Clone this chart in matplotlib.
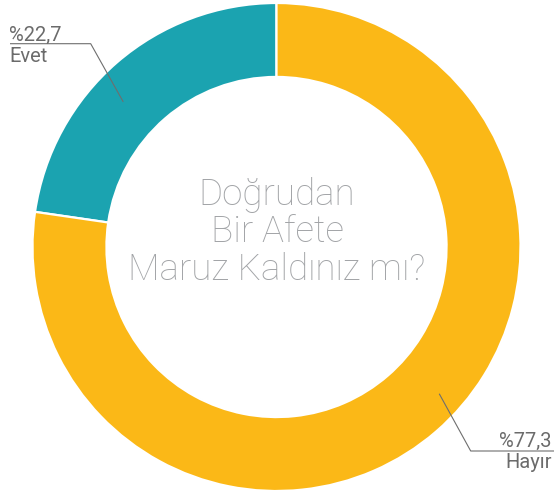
import matplotlib
matplotlib.use("Agg")
import matplotlib.pyplot as plt
import numpy as np

labels = ["Evet", "Hayır"]
values = [22.7, 77.3]
pct_labels = ["%22,7", "%77,3"]
colors = ["#1BA3B0", "#FBB817"]
center_lines = ["Doğrudan", "Bir Afete", "Maruz Kaldınız mı?"]

W, H = 554, 498
CX, CY, R = 276.5, 247.0, 244.0  # pixels

def px(x, y):
    return ((x - CX) / R, (CY - y) / R)

fig = plt.figure(figsize=(W / 100, H / 100), dpi=100)
ax = fig.add_axes([0, 0, 1, 1])
ax.pie(values, radius=1.0, startangle=90, counterclock=True, colors=colors,
       wedgeprops=dict(width=0.303, edgecolor="white", linewidth=1.6))
ax.set_xlim(-CX / R, (W - CX) / R)
ax.set_ylim(-(H - CY) / R, CY / R)
ax.set_aspect("equal")
ax.axis("off")

font_c = dict(family=["Roboto", "DejaVu Sans"], weight="light")
font_l = dict(family=["Roboto", "DejaVu Sans"], weight="normal")

# center text
for line, yb in zip(center_lines, [205, 242, 280]):
    x, y = px(277, yb)
    ax.text(x, y, line, ha="center", va="baseline", fontsize=26.5,
            color="#A2A4A7", **font_c)

# leader lines and labels
cum = np.cumsum([0] + values)
total = sum(values)
mids = [90 + 360 * (cum[i] + cum[i + 1]) / 2 / total for i in range(len(values))]
offsets = [5.7, 7.1]
rads = [0.865, 0.898]
elbows = [px(90.7, 43.7), px(470.7, 451)]
ends = [px(10, 43.7), px(554, 451)]
line_col = "#6E6E6E"
for i in range(len(values)):
    a = np.deg2rad(mids[i] + offsets[i])
    sx, sy = rads[i] * np.cos(a), rads[i] * np.sin(a)
    ex, ey = elbows[i]
    tx, ty = ends[i]
    ax.plot([sx, ex, tx], [sy, ey, ty], color=line_col, lw=0.8,
            solid_capstyle="butt")

# label texts
x, y = px(9, 41)
ax.text(x, y, pct_labels[0], ha="left", va="baseline", fontsize=14.5,
        color="#6B6B6B", **font_l)
x, y = px(9, 62)
ax.text(x, y, labels[0], ha="left", va="baseline", fontsize=14.5,
        color="#6B6B6B", **font_l)
x, y = px(552, 447)
ax.text(x, y, pct_labels[1], ha="right", va="baseline", fontsize=14.5,
        color="#6B6B6B", **font_l)
x, y = px(552, 468)
ax.text(x, y, labels[1], ha="right", va="baseline", fontsize=14.5,
        color="#6B6B6B", **font_l)

fig.savefig("out.png", dpi=100)
